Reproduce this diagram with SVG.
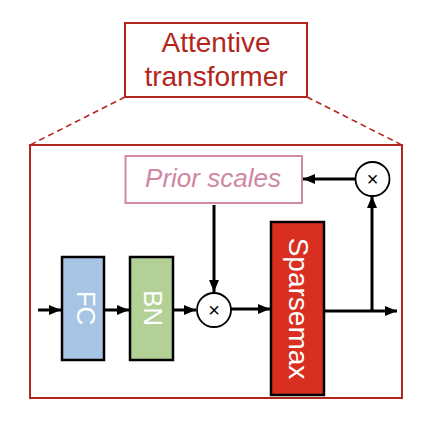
<svg xmlns="http://www.w3.org/2000/svg" width="426" height="422" viewBox="0 0 426 422">
<defs>
<marker id="ah" viewBox="0 0 12 12" refX="12" refY="6" markerWidth="12" markerHeight="12" markerUnits="userSpaceOnUse" orient="auto">
<path d="M0,1 L12,6 L0,11 Z" fill="#000"/>
</marker>
</defs>
<style>
.red{fill:none;stroke:#b3261e;stroke-width:2}
.title{font-family:"Liberation Sans",Arial,sans-serif;font-size:28px;fill:#b3261e;text-anchor:middle}
.arr{fill:none;stroke:#000;stroke-width:3;marker-end:url(#ah)}
.box{stroke:#000;stroke-width:2.5}
.lbl{font-family:"Liberation Sans",Arial,sans-serif;fill:#fff;text-anchor:middle}
.op{fill:#fff;stroke:#000;stroke-width:1.8}
.x{font-family:"Liberation Sans",Arial,sans-serif;font-size:20px;fill:#000;text-anchor:middle}
</style>
<rect width="426" height="422" fill="#fff"/>
<g id="title">
<rect class="red" x="125" y="23" width="182" height="74"/>
<text class="title" x="216" y="52">Attentive</text>
<text class="title" x="216" y="86">transformer</text>
</g>
<g id="zoom-lines">
<line x1="125" y1="97" x2="30" y2="145" stroke="#b3261e" stroke-width="1.5" stroke-dasharray="6,4"/>
<line x1="307" y1="97" x2="402" y2="145" stroke="#b3261e" stroke-width="1.5" stroke-dasharray="6,4"/>
</g>
<g id="frame">
<rect class="red" x="30" y="145" width="372" height="253"/>
</g>
<g id="connectors">
<line class="arr" x1="38" y1="310" x2="61" y2="310"/>
<line class="arr" x1="104" y1="310" x2="129" y2="310"/>
<line class="arr" x1="173" y1="310" x2="196" y2="310"/>
<line class="arr" x1="231" y1="309" x2="270" y2="309"/>
<line class="arr" x1="214" y1="205" x2="214" y2="292"/>
<line class="arr" x1="324" y1="311" x2="397" y2="311"/>
<line class="arr" x1="372" y1="311" x2="372" y2="196"/>
<line class="arr" x1="356" y1="179" x2="303" y2="179"/>
</g>
<g id="prior-scales">
<rect x="125.5" y="156" width="176.5" height="47" fill="#fff" stroke="#d08aa6" stroke-width="2"/>
<text x="213" y="187" font-family="Liberation Sans,Arial,sans-serif" font-size="26" font-style="italic" fill="#cf86a5" text-anchor="middle">Prior scales</text>
</g>
<g id="fc">
<rect class="box" x="62" y="257" width="42" height="103" fill="#a7c4e4"/>
<text class="lbl" font-size="26" transform="translate(86,308) rotate(90)" x="0" y="9">FC</text>
</g>
<g id="bn">
<rect class="box" x="130" y="257" width="43" height="103" fill="#b3d196"/>
<text class="lbl" font-size="26" transform="translate(152.5,308) rotate(90)" x="0" y="9">BN</text>
</g>
<g id="mult1">
<circle class="op" cx="214" cy="310" r="17"/>
<text class="x" x="214" y="317">×</text>
</g>
<g id="sparsemax">
<rect class="box" x="271" y="222" width="53" height="173" fill="#d92f20"/>
<text class="lbl" font-size="28" transform="translate(299,308.5) rotate(90)" x="0" y="10">Sparsemax</text>
</g>
<g id="mult2">
<circle class="op" cx="372.5" cy="179" r="17"/>
<text class="x" x="372.5" y="186">×</text>
</g>
</svg>
